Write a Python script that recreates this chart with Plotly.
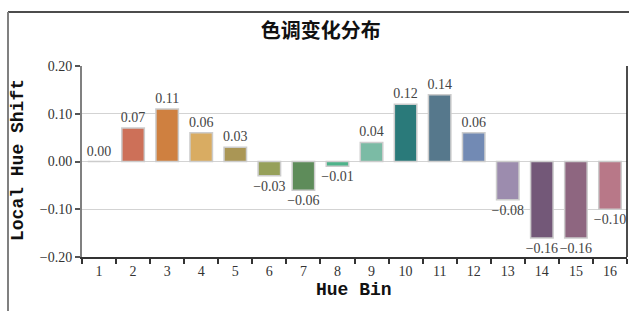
import plotly.graph_objects as go

categories = [str(i) for i in range(1, 17)]
values = [0.00, 0.07, 0.11, 0.06, 0.03, -0.03, -0.06, -0.01, 0.04, 0.12, 0.14, 0.06, -0.08, -0.16, -0.16, -0.10]
colors = ["#D9A070", "#CD7058", "#CF8040", "#D9AC62", "#AA9655", "#96A05A", "#5E8C5A", "#4DB38A",
          "#7BBBA5", "#2A7A7A", "#56788C", "#728AB4", "#9C8CAE", "#735878", "#8E6680", "#B87888"]
y_ticks = [-0.2, -0.1, 0.0, 0.1, 0.2]
title_text = "色调变化分布"
x_title = "Hue Bin"
y_title = "Local Hue Shift"

W, H = 629, 311
L, R, T, B = 82, 2, 66, 54
pw, ph = W - L - R, H - T - B

fig = go.Figure()
fig.add_trace(go.Bar(
    x=categories, y=values,
    marker=dict(color=colors, line=dict(color="#cccccc", width=1.5)),
    width=0.66,
    text=[f"{v:.2f}".replace("-", "\u2212") for v in values],
    textposition="outside",
    constraintext="none",
    textfont=dict(family="Liberation Serif", size=14, color="#444444"),
    cliponaxis=False,
    hoverinfo="skip",
))

tick_font = dict(family="Liberation Serif", size=14, color="#333333")
title_font = dict(family="Liberation Mono", size=18, color="#111111", weight="bold")

fig.update_layout(
    width=W, height=H,
    margin=dict(l=L, r=R, t=T, b=B, autoexpand=False),
    paper_bgcolor="white", plot_bgcolor="white",
    showlegend=False,
    title=dict(text=title_text, x=0.51, xanchor="center", y=1 - 31 / H, yanchor="middle",
               font=dict(family="Noto Sans CJK SC", size=20, color="#111111", weight="bold")),
    xaxis=dict(
        type="category", range=[-0.5, 15.5], automargin=False,
        tickson="boundaries", ticks="outside", ticklen=5, tickcolor="#333333", tickwidth=1.5,
        showline=True, linecolor="#333333", linewidth=2, showgrid=False,
        tickfont=tick_font,
    ),
    yaxis=dict(
        range=[-0.2, 0.2], tickvals=y_ticks, tickformat=".2f", automargin=False,
        ticks="outside", ticklen=5, tickcolor="#555555", tickwidth=1.5,
        showline=True, linecolor="#808080", linewidth=2,
        showgrid=True, gridcolor="#d3d3d3", gridwidth=1, zeroline=False,
        tickfont=tick_font,
    ),
    annotations=[
        dict(text=x_title, xref="paper", yref="paper", x=(354 - L) / pw, y=-(290 - (H - B)) / ph,
             xanchor="center", yanchor="middle", showarrow=False, font=title_font),
        dict(text=y_title, xref="paper", yref="paper", x=(18 - L) / pw, y=((H - B) - 160) / ph,
             xanchor="center", yanchor="middle", showarrow=False, textangle=-90, font=title_font),
    ],
    shapes=[
        dict(type="line", xref="paper", yref="paper", x0=1, x1=1, y0=0, y1=1,
             line=dict(color="#111111", width=1.5)),
        dict(type="line", xref="paper", yref="paper",
             x0=(8 - L) / pw, x1=(W + 5 - L) / pw, y0=(H - B - 12) / ph, y1=(H - B - 12) / ph,
             line=dict(color="#111111", width=1.5)),
        dict(type="line", xref="paper", yref="paper",
             x0=(8 - L) / pw, x1=(8 - L) / pw, y0=(H - B - 12) / ph, y1=-(B + 5) / ph,
             line=dict(color="#808080", width=2)),
    ],
)

fig.write_html(
    "out.html",
    config={"displayModeBar": False},
    post_script=("document.documentElement.style.overflow='hidden';"
                 "document.body.style.overflow='hidden';document.body.style.margin='0';"),
)
